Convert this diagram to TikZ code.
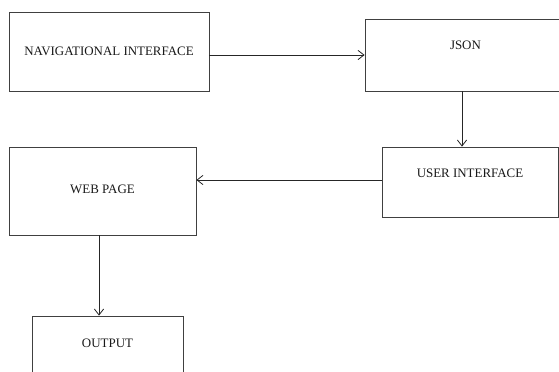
\documentclass[tikz,border=0pt]{standalone}
\usepackage{fontspec}
\setmainfont{Liberation Serif}
\usetikzlibrary{arrows.meta,calc}
\begin{document}
\begin{tikzpicture}[x=0.75pt,y=-0.75pt,
  box/.style={draw=black!75,line width=0.6pt,rectangle,inner sep=0pt},
  lbl/.style={anchor=center,font=\fontsize{9.7}{11}\selectfont,text=black!90,inner sep=0pt},
  conn/.style={draw=black!85,line width=0.6pt,-{Straight Barb[length=4.5pt,width=7pt]}}]
\useasboundingbox (0,0) rectangle (559,371);
\clip (0,0) rectangle (559,371);
\fill[white] (0,0) rectangle (559,371);
\node[box,minimum width=150pt,minimum height=59.25pt,
  label={[lbl]center:NAVIGATIONAL INTERFACE}] (nav) at (109,51.5) {};
\node[box,minimum width=145.5pt,minimum height=54pt,
  label={[lbl,xshift=2.6pt,yshift=7.5pt]center:JSON}] (json) at (462,55) {};
\node[box,minimum width=132pt,minimum height=52.5pt,
  label={[lbl,yshift=6.75pt]center:USER INTERFACE}] (ui) at (470,182) {};
\node[box,minimum width=140.25pt,minimum height=66pt,
  label={[lbl,yshift=1.5pt]center:WEB PAGE}] (web) at (102.5,191) {};
\node[box,minimum width=113.25pt,minimum height=63pt,
  label={[lbl,yshift=11.25pt]center:OUTPUT}] (out) at (107.5,358) {};
\coordinate (uiw) at ($(ui.west)+(0,-2)$);
\coordinate (webs) at ($(web.south)+(-3.5,0)$);
\draw[conn] (nav.east |- json.west) -- (json.west);
\draw[conn] (json.south) -- (json.south |- ui.north);
\draw[conn] (uiw) -- (uiw -| web.east);
\draw[conn] (webs) -- (webs |- out.north);
\end{tikzpicture}
\end{document}
